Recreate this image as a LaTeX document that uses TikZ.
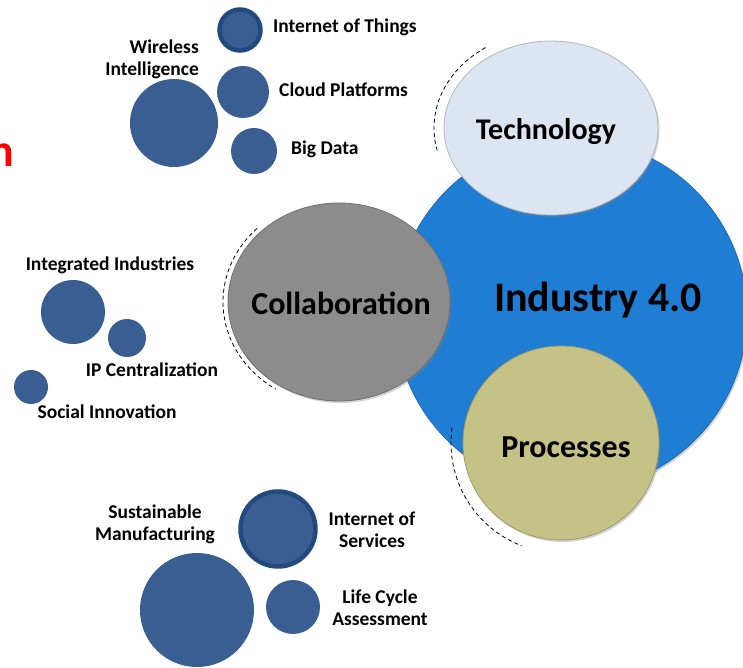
\documentclass[tikz,border=0pt]{standalone}
\usepackage{fontspec}
\setmainfont{Carlito}
\usetikzlibrary{shapes.geometric,shadows}

\definecolor{dotblue}{RGB}{57,94,145}
\definecolor{ringblue}{RGB}{36,73,126}
\definecolor{coreblue}{RGB}{31,125,212}
\definecolor{techfill}{RGB}{220,229,241}
\definecolor{collfill}{RGB}{140,140,140}
\definecolor{procfill}{RGB}{196,194,135}
\definecolor{alertred}{RGB}{255,0,0}

\begin{document}
\begin{tikzpicture}[x=1pt,y=1pt,
	dot/.style={circle,fill=dotblue,inner sep=0pt,minimum size=#1},
	ringdot/.style={circle,fill=dotblue,draw=ringblue,line width=4.5pt,inner sep=0pt,minimum size=#1},
	tag/.style={font=\fontsize{19.5}{22}\selectfont\bfseries,inner sep=0pt,align=center},
	hub/.style={ellipse,inner sep=0pt,fill=#1,draw=#1!80!black,line width=0.8pt,
		drop shadow={opacity=0.35,shadow xshift=1.5pt,shadow yshift=-2pt}},
	hubtext/.style={anchor=base,inner sep=0pt,font=\fontsize{32}{36}\selectfont\bfseries},
	guide/.style={dashed,line width=0.8pt,dash pattern=on 4pt off 3pt}]
	\useasboundingbox (0,0) rectangle (743,667);
	% red word cut off at the left edge
	\node [anchor=base east,inner sep=0pt,text=alertred,font=\fontsize{46}{50}\selectfont\bfseries] (cut) at (14,500) {n};
	% core and its three pillars
	\node [circle,inner sep=0pt,minimum size=352pt,fill=coreblue,draw=coreblue!85!black,line width=0.8pt,
		drop shadow={opacity=0.35,shadow xshift=1.5pt,shadow yshift=-2pt}] (core) at (571,352) {};
	\node [hubtext,font=\fontsize{42}{46}\selectfont\bfseries] (coretext) at (598,355) {Industry 4.0};
	\node [hub=techfill,minimum width=214pt,minimum height=174pt] (tech) at (551,539) {};
	\node [hubtext,font=\fontsize{30}{34}\selectfont\bfseries] (techtext) at (546,527) {Technology};
	\node [hub=collfill,minimum width=222pt,minimum height=198pt] (collab) at (339,365) {};
	\node [hubtext] (collabtext) at (341,352) {Collaboration};
	\node [hub=procfill,minimum width=196pt,minimum height=194pt] (proc) at (561,224) {};
	\node [hubtext] (proctext) at (566,210) {Processes};
	\draw [guide] (tech.center) ++(124:117 and 97) arc [start angle=124,end angle=195,x radius=117,y radius=97];
	\draw [guide] (collab.center) ++(135:116 and 104) arc [start angle=135,end angle=237,x radius=116,y radius=104];
	\draw [guide] (proc.center) ++(172:110 and 110) arc [start angle=172,end angle=249,radius=110];
	% technology bubbles
	\node [ringdot=41pt] (iot) at (240,637) {};
	\node [tag,anchor=west] (iotlbl) at (273,640) {Internet of Things};
	\node [dot=52pt] (cloud) at (243,575) {};
	\node [tag,anchor=west] (cloudlbl) at (279,577) {Cloud Platforms};
	\node [dot=46pt] (data) at (254,516) {};
	\node [tag,anchor=west] (datalbl) at (291,518) {Big Data};
	\node [dot=88pt] (wireless) at (174,544) {};
	\node [tag,anchor=east,align=right] (wirelesslbl) at (199,608) {Wireless\\Intelligence};
	% collaboration bubbles
	\node [dot=64pt] (integ) at (73,355) {};
	\node [tag] (integlbl) at (110,402) {Integrated Industries};
	\node [dot=38pt] (ip) at (127,329) {};
	\node [tag] (iplbl) at (152,297) {IP Centralization};
	\node [dot=34pt] (social) at (31,280) {};
	\node [tag] (sociallbl) at (107,255) {Social Innovation};
	% process bubbles
	\node [dot=114pt] (sustain) at (197,57) {};
	\node [tag] (sustainlbl) at (155,143) {Sustainable\\Manufacturing};
	\node [ringdot=75pt] (ios) at (278,138) {};
	\node [tag] (ioslbl) at (372,137) {Internet of\\Services};
	\node [dot=54pt] (lca) at (293,60) {};
	\node [tag] (lcalbl) at (380,59) {Life Cycle\\Assessment};
\end{tikzpicture}
\end{document}
